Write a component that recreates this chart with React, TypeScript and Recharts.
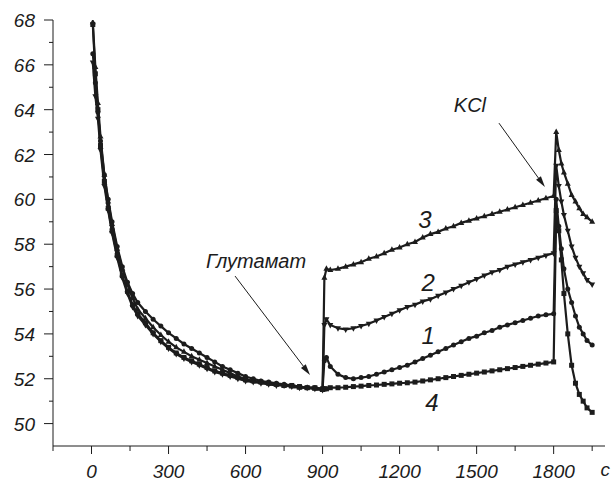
import { LineChart, Line, XAxis, YAxis, ReferenceLine, ReferenceDot } from "recharts";

const INK = "#1c1c1c";
const FONT = "'Liberation Sans', Arial, sans-serif";

// time, s
const times = [
    5, 15, 25, 35, 50, 65, 80, 100, 120, 140, 160, 180, 210, 240, 270, 300, 330, 360, 390, 420, 450, 480, 510, 540,
    570, 600, 630, 660, 690, 720, 750, 780, 810, 840, 870, 900,
    907, 915, 930, 960, 990, 1020, 1050, 1080, 1110, 1140, 1170, 1200, 1230, 1260, 1290, 1320, 1350, 1380, 1410,
    1440, 1470, 1500, 1530, 1560, 1590, 1620, 1650, 1680, 1710, 1740, 1770, 1800,
    1810, 1820, 1830, 1840, 1855, 1870, 1885, 1900, 1915, 1930, 1950,
];

// curve 1 (circles)
const curve1 = [
    66.5, 65.2, 63.9, 62.6, 61.1, 60.0, 59.0, 57.9, 57.0, 56.3, 55.8, 55.4, 55.0, 54.65, 54.35, 54.05, 53.8, 53.55,
    53.35, 53.15, 52.95, 52.75, 52.55, 52.4, 52.25, 52.1, 52.0, 51.9, 51.85, 51.8, 51.75, 51.7, 51.65, 51.6, 51.6, 51.55,
    52.8, 52.95, 52.55, 52.2, 52.05, 52.0, 52.05, 52.1, 52.2, 52.3, 52.4, 52.5, 52.6, 52.75, 52.9, 53.05, 53.2, 53.35,
    53.5, 53.65, 53.8, 53.9, 54.05, 54.15, 54.3, 54.4, 54.5, 54.6, 54.7, 54.8, 54.85, 54.9,
    60.0, 58.8, 57.8, 56.9, 56.0, 55.4, 54.8, 54.3, 54.0, 53.7, 53.5,
];

// curve 2 (triangles down)
const curve2 = [
    66.1, 64.6, 63.6, 62.2, 60.6, 59.5, 58.5, 57.4, 56.5, 55.8, 55.2, 54.8, 54.4, 54.0, 53.65, 53.35, 53.1, 52.9, 52.75,
    52.6, 52.45, 52.3, 52.2, 52.1, 52.0, 51.9, 51.85, 51.8, 51.75, 51.7, 51.7, 51.65, 51.6, 51.6, 51.55, 51.5,
    54.4, 54.65, 54.4, 54.25, 54.2, 54.25, 54.35, 54.45, 54.6, 54.75, 54.9, 55.05, 55.2, 55.3, 55.45, 55.55, 55.7,
    55.85, 56.0, 56.15, 56.3, 56.45, 56.6, 56.75, 56.85, 57.0, 57.1, 57.2, 57.3, 57.4, 57.5, 57.6,
    61.5, 60.6, 59.9, 59.3, 58.6, 57.9, 57.4, 57.0, 56.7, 56.4, 56.2,
];

// curve 3 (triangles up)
const curve3 = [
    67.9, 65.9, 64.3, 62.8, 61.1, 59.9, 58.9, 57.8, 56.9, 56.2, 55.6, 55.1, 54.7, 54.3, 53.95, 53.65, 53.4, 53.2, 53.0,
    52.85, 52.7, 52.55, 52.4, 52.25, 52.1, 52.0, 51.9, 51.85, 51.8, 51.75, 51.7, 51.65, 51.6, 51.6, 51.55, 51.5,
    56.5, 56.9, 56.85, 56.9, 57.0, 57.1, 57.2, 57.35, 57.45, 57.6, 57.75, 57.85, 58.0, 58.1, 58.3, 58.45, 58.55, 58.7,
    58.8, 58.95, 59.05, 59.15, 59.25, 59.35, 59.45, 59.55, 59.65, 59.75, 59.85, 59.95, 60.05, 60.15,
    63.0, 62.2, 61.6, 61.2, 60.7, 60.2, 59.9, 59.6, 59.35, 59.2, 59.0,
];

// curve 4 (squares)
const curve4 = [
    67.8, 65.6, 64.0, 62.4, 60.8, 59.6, 58.6, 57.5, 56.6, 55.9, 55.3, 54.9, 54.5, 54.05, 53.7, 53.4, 53.15, 52.95,
    52.8, 52.65, 52.5, 52.35, 52.25, 52.15, 52.05, 51.95, 51.9, 51.85, 51.8, 51.75, 51.7, 51.7, 51.65, 51.6, 51.6, 51.55,
    51.55, 51.55, 51.6, 51.6, 51.62, 51.65, 51.67, 51.7, 51.72, 51.75, 51.77, 51.8, 51.82, 51.85, 51.9, 51.95, 52.0,
    52.05, 52.1, 52.15, 52.2, 52.25, 52.3, 52.35, 52.4, 52.45, 52.5, 52.55, 52.6, 52.65, 52.7, 52.75,
    59.5, 58.6, 57.3, 55.8, 54.0, 52.6, 51.8, 51.3, 51.0, 50.7, 50.5,
];

const xTicks = [-150, 0, 150, 300, 450, 600, 750, 900, 1050, 1200, 1350, 1500, 1650, 1800, 1950];
const xLabels = [0, 300, 600, 900, 1200, 1500, 1800];
const yTicks = [50, 51, 52, 53, 54, 55, 56, 57, 58, 59, 60, 61, 62, 63, 64, 65, 66, 67, 68];
const yLabels = [50, 52, 54, 56, 58, 60, 62, 64, 66, 68];

const data = times.map((t, i) => ({ t, s1: curve1[i], s2: curve2[i], s3: curve3[i], s4: curve4[i] }));

function marker(kind: string) {
    return (p: any) => {
        const { cx, cy, index } = p;
        if (cx == null || cy == null) return <g key={index} />;
        if (kind === "circle") return <circle key={index} cx={cx} cy={cy} r={2.5} fill={INK} />;
        if (kind === "square") return <rect key={index} x={cx - 2.5} y={cy - 2.5} width={5} height={5} fill={INK} />;
        if (kind === "up")
            return <path key={index} d={`M${cx},${cy - 3.5}L${cx + 3},${cy + 2}L${cx - 3},${cy + 2}Z`} fill={INK} />;
        return <path key={index} d={`M${cx},${cy + 3.5}L${cx + 3},${cy - 2}L${cx - 3},${cy - 2}Z`} fill={INK} />;
    };
}

const XTick = (p: any) => {
    const { x, y, payload } = p;
    const v = payload.value;
    const major = v >= 0 && v % 300 === 0;
    return (
        <g>
            <line x1={x} x2={x} y1={y} y2={y + (major ? 8 : 5)} stroke={INK} />
            {xLabels.includes(v) && (
                <text x={x} y={y + 32} textAnchor="middle" fontFamily={FONT} fontStyle="italic" fontSize={19} fill={INK}>
                    {v}
                </text>
            )}
            {v === 1950 && (
                <text x={x + 13} y={y + 30} textAnchor="middle" fontFamily={FONT} fontStyle="italic" fontSize={19} fill={INK}>
                    c
                </text>
            )}
        </g>
    );
};

const YTick = (p: any) => {
    const { x, y, payload } = p;
    const v = payload.value;
    const major = v % 2 === 0;
    return (
        <g>
            <line x1={x - (major ? 9 : 4)} x2={x} y1={y} y2={y} stroke={INK} />
            {yLabels.includes(v) && (
                <text x={x - 18} y={y + 7} textAnchor="end" fontFamily={FONT} fontStyle="italic" fontSize={19} fill={INK}>
                    {v}
                </text>
            )}
        </g>
    );
};

const arrow = (p: any) => {
    const { x1, y1, x2, y2 } = p;
    const a = Math.atan2(y2 - y1, x2 - x1);
    const c = Math.cos(a);
    const s = Math.sin(a);
    const bx = x2 - 11 * c;
    const by = y2 - 11 * s;
    return (
        <g>
            <line x1={x1} y1={y1} x2={bx} y2={by} stroke={INK} strokeWidth={1} />
            <path d={`M${x2},${y2}L${bx - 3 * s},${by + 3 * c}L${bx + 3 * s},${by - 3 * c}Z`} fill={INK} />
        </g>
    );
};

const textAt = (label: string, size: number) => (p: any) => (
    <text x={p.cx} y={p.cy} textAnchor="middle" dominantBaseline="central" fontFamily={FONT} fontStyle="italic" fontSize={size} fill={INK}>
        {label}
    </text>
);

export default function App() {
    return (
        <div style={{ position: "absolute", left: 0, top: 0, width: 615, height: 483, background: "#fff" }}>
            <LineChart width={615} height={483} data={data} margin={{ top: 20, right: 10, bottom: 0, left: 0 }}>
                <XAxis
                    dataKey="t"
                    type="number"
                    domain={[-150, 2000]}
                    ticks={xTicks}
                    interval={0}
                    height={37}
                    tickSize={0}
                    tickMargin={0}
                    tickLine={false}
                    axisLine={{ stroke: INK }}
                    tick={<XTick />}
                />
                <YAxis
                    type="number"
                    domain={[49, 68]}
                    ticks={yTicks}
                    interval={0}
                    width={53}
                    tickSize={0}
                    tickMargin={0}
                    tickLine={false}
                    axisLine={{ stroke: INK }}
                    tick={<YTick />}
                    allowDataOverflow
                />
                <Line dataKey="s4" stroke={INK} strokeWidth={2.2} dot={marker("square")} activeDot={false} isAnimationActive={false} />
                <Line dataKey="s1" stroke={INK} strokeWidth={2.2} dot={marker("circle")} activeDot={false} isAnimationActive={false} />
                <Line dataKey="s2" stroke={INK} strokeWidth={2.2} dot={marker("down")} activeDot={false} isAnimationActive={false} />
                <Line dataKey="s3" stroke={INK} strokeWidth={2.2} dot={marker("up")} activeDot={false} isAnimationActive={false} />
                <ReferenceLine segment={[{ x: 559, y: 56.58 }, { x: 851, y: 52.17 }]} shape={arrow} />
                <ReferenceLine segment={[{ x: 1587, y: 63.4 }, { x: 1766, y: 60.55 }]} shape={arrow} />
                <ReferenceDot x={641} y={57.25} r={0} shape={textAt("Глутамат", 20)} />
                <ReferenceDot x={1474} y={64.2} r={0} shape={textAt("KCl", 20)} />
                <ReferenceDot x={1299} y={59.08} r={0} shape={textAt("3", 24)} />
                <ReferenceDot x={1311} y={56.31} r={0} shape={textAt("2", 24)} />
                <ReferenceDot x={1311} y={53.95} r={0} shape={textAt("1", 24)} />
                <ReferenceDot x={1326} y={50.92} r={0} shape={textAt("4", 24)} />
            </LineChart>
        </div>
    );
}
